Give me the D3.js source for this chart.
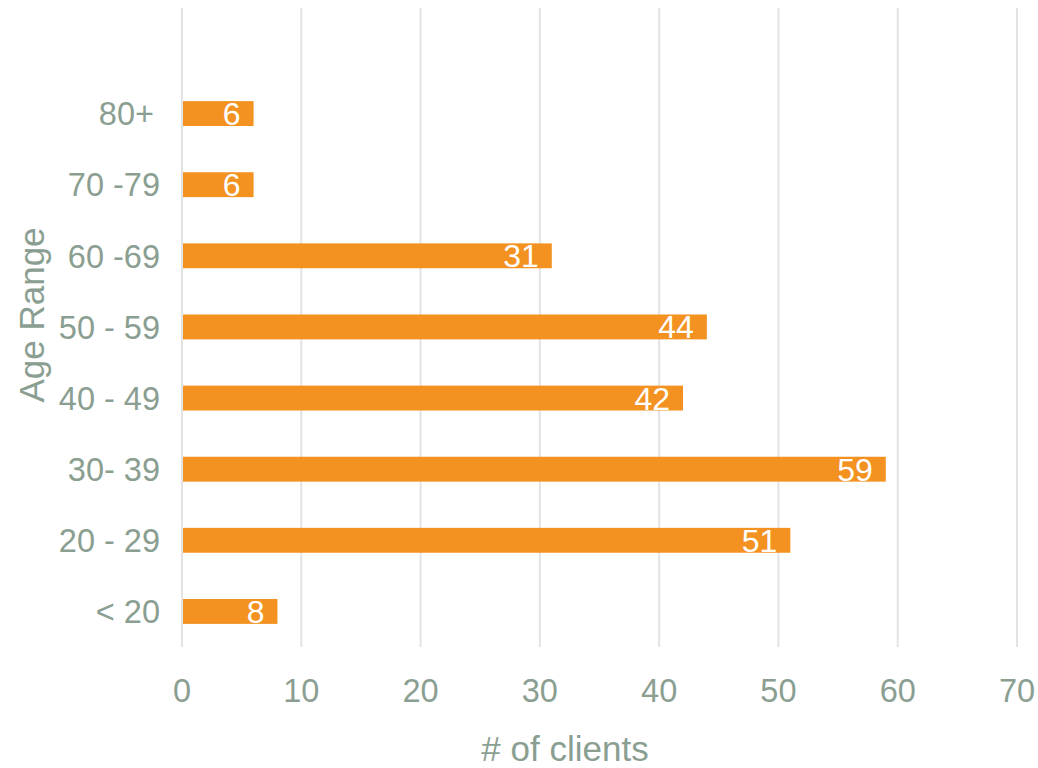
<!DOCTYPE html>
<meta charset="utf-8">
<style>
body { margin: 0; background: #fff; }
text { font-family: "Liberation Sans", Arial, sans-serif; }
.tick-label { fill: #8a9e91; font-size: 32.5px; }
.title { fill: #8a9e91; font-size: 35px; }
.grid line { stroke: #e3e3e3; stroke-width: 2px; }
.bar { fill: #f39221; }
.value { fill: #fff; font-size: 32px; text-anchor: end; }
</style>
<svg width="1038" height="768"></svg>
<script src="https://cdn.jsdelivr.net/npm/d3@7"></script>
<script>

// age ranges, bottom to top
var ageRanges = ["< 20", "20 - 29", "30- 39", "40 - 49", "50 - 59", "60 -69", "70 -79", "80+"];
var clients = [8, 51, 59, 42, 44, 31, 6, 6];
var xTicks = [0, 10, 20, 30, 40, 50, 60, 70];

var data = ageRanges.map(function(a, i) { return {age: a, n: clients[i]}; });

var svg = d3.select("svg");

var x = d3.scaleLinear().domain([0, 70]).range([182, 1017]);
var y = d3.scaleBand()
    .domain(ageRanges)
    .range([647, 78])
    .paddingInner(0.65)
    .paddingOuter(0.325);

// vertical gridlines
svg.append("g").attr("class", "grid")
  .selectAll("line")
  .data(xTicks)
  .enter().append("line")
    .attr("x1", function(d) { return x(d); })
    .attr("x2", function(d) { return x(d); })
    .attr("y1", 8)
    .attr("y2", 647);

// bars
svg.append("g").selectAll("rect")
  .data(data)
  .enter().append("rect")
    .attr("class", "bar")
    .attr("x", x(0) + 1)
    .attr("y", function(d) { return y(d.age); })
    .attr("width", function(d) { return x(d.n) - x(0) - 1; })
    .attr("height", y.bandwidth());

// value labels inside bar ends
svg.append("g").selectAll("text")
  .data(data)
  .enter().append("text")
    .attr("class", "value")
    .attr("x", function(d) { return x(d.n) - 13; })
    .attr("y", function(d) { return y(d.age) + y.bandwidth() / 2; })
    .attr("dy", "0.36em")
    .text(function(d) { return d.n; });

// y category labels
svg.append("g").selectAll("text")
  .data(ageRanges)
  .enter().append("text")
    .attr("class", "tick-label")
    .attr("text-anchor", "end")
    .attr("x", function(d) { return d == "80+" ? 154 : 160; })
    .attr("y", function(d) { return y(d) + y.bandwidth() / 2; })
    .attr("dy", "0.36em")
    .text(function(d) { return d; });

// x tick labels
svg.append("g").selectAll("text")
  .data(xTicks)
  .enter().append("text")
    .attr("class", "tick-label")
    .attr("text-anchor", "middle")
    .attr("x", function(d) { return x(d); })
    .attr("y", 690)
    .attr("dy", "0.36em")
    .text(function(d) { return d; });

// axis titles
svg.append("text")
    .attr("class", "title")
    .attr("text-anchor", "middle")
    .attr("x", 565)
    .attr("y", 748)
    .attr("dy", "0.36em")
    .text("# of clients");

svg.append("text")
    .attr("class", "title")
    .attr("text-anchor", "middle")
    .attr("transform", "translate(31,315) rotate(-90)")
    .attr("dy", "0.36em")
    .text("Age Range");

</script>
